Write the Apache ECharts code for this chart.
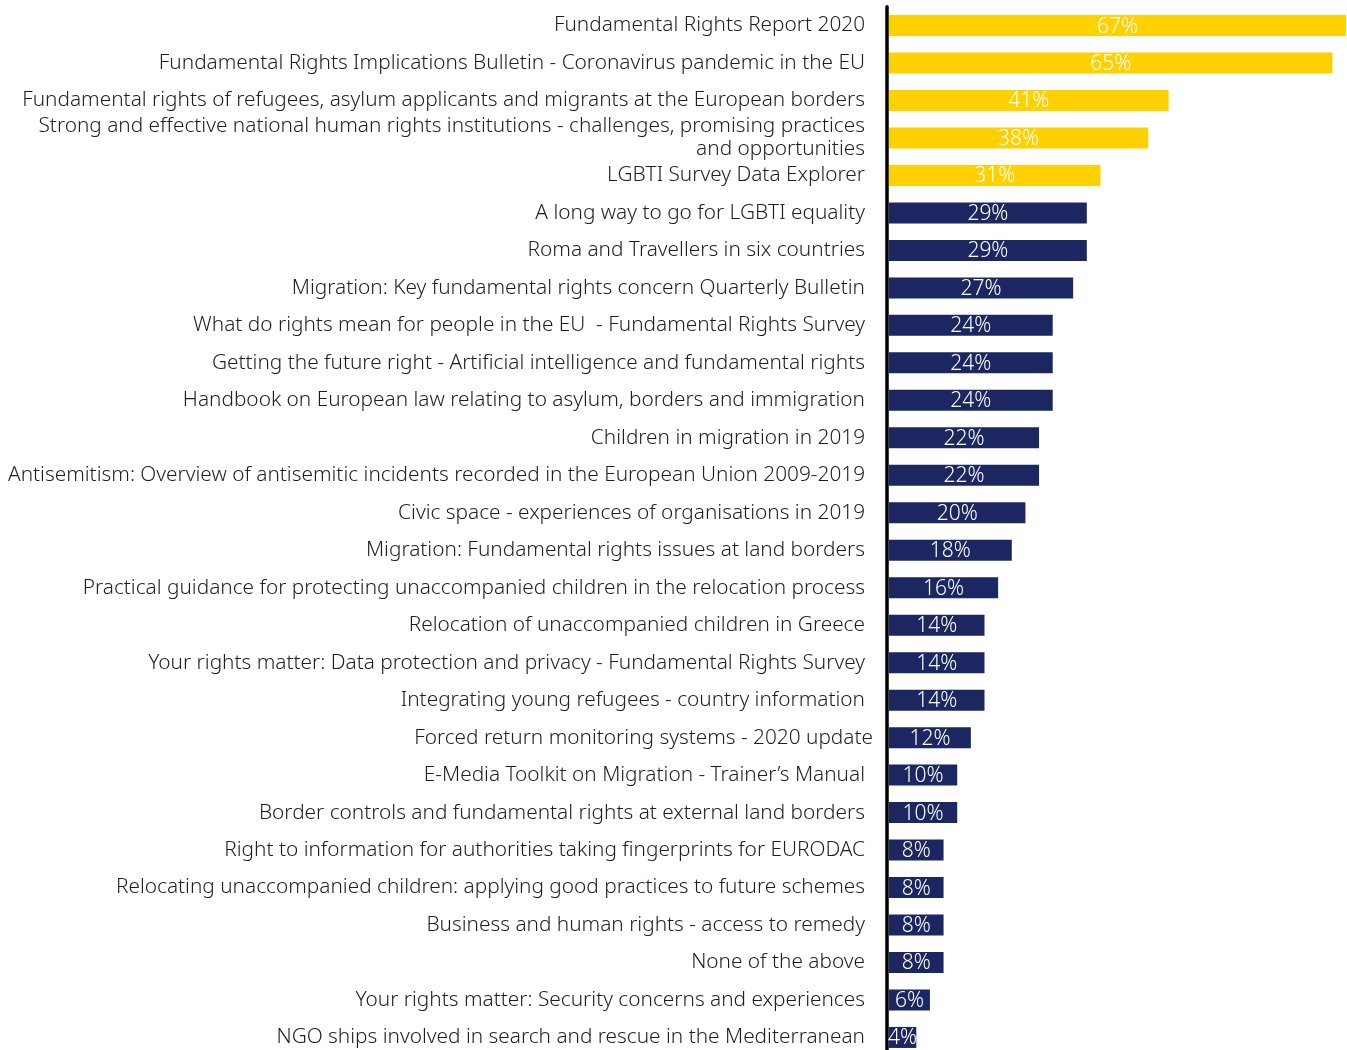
<!DOCTYPE html>
<html>
<head>
<meta charset="utf-8">
<script src="https://cdn.jsdelivr.net/npm/echarts@6/dist/echarts.min.js"></script>
<style>
  html, body { margin: 0; padding: 0; background: #fff; }
  #chart { width: 1347px; height: 1050px; }
</style>
</head>
<body>
<div id="chart"></div>
<script>
// Publications, ordered from most to least selected
const categories = [
  'Fundamental Rights Report 2020',
  'Fundamental Rights Implications Bulletin - Coronavirus pandemic in the EU',
  'Fundamental rights of refugees, asylum applicants and migrants at the European borders',
  'Strong and effective national human rights institutions - challenges, promising practices\nand opportunities',
  'LGBTI Survey Data Explorer',
  'A long way to go for LGBTI equality',
  'Roma and Travellers in six countries',
  'Migration: Key fundamental rights concern Quarterly Bulletin',
  'What do rights mean for people in the EU  - Fundamental Rights Survey',
  'Getting the future right - Artificial intelligence and fundamental rights',
  'Handbook on European law relating to asylum, borders and immigration',
  'Children in migration in 2019',
  'Antisemitism: Overview of antisemitic incidents recorded in the European Union 2009-2019',
  'Civic space - experiences of organisations in 2019',
  'Migration: Fundamental rights issues at land borders',
  'Practical guidance for protecting unaccompanied children in the relocation process',
  'Relocation of unaccompanied children in Greece',
  'Your rights matter: Data protection and privacy - Fundamental Rights Survey',
  'Integrating young refugees - country information',
  'Forced return monitoring systems - 2020 update',
  'E-Media Toolkit on Migration - Trainer\u2019s Manual',
  'Border controls and fundamental rights at external land borders',
  'Right to information for authorities taking fingerprints for EURODAC',
  'Relocating unaccompanied children: applying good practices to future schemes',
  'Business and human rights - access to remedy',
  'None of the above',
  'Your rights matter: Security concerns and experiences',
  'NGO ships involved in search and rescue in the Mediterranean'
];

// Share of respondents (%)
const shares = [67, 65, 41, 38, 31, 29, 29, 27, 24, 24, 24, 22, 22, 20, 18, 16, 14, 14, 14, 12, 10, 10, 8, 8, 8, 8, 6, 4];

// The five most selected items are highlighted
const highlightCount = 5;

const YELLOW = '#FFD100';
const NAVY = '#1C2660';
const FONT = 'Noto Sans';
const LABEL_SIZE = 20.8;

const chart = echarts.init(document.getElementById('chart'));

function labelStyle(padRight) {
  return { padding: [0, padRight, 0, 0], fontFamily: FONT, fontWeight: 300, fontSize: LABEL_SIZE, color: '#1e1e1e', lineHeight: 23 };
}

chart.setOption({
  animation: false,
  grid: { left: 889, right: 1, top: 6.8, height: 1049.4, containLabel: false, outerBoundsMode: 'none' },
  xAxis: {
    type: 'value',
    min: 0,
    max: 67,
    show: false
  },
  yAxis: {
    type: 'category',
    data: categories,
    inverse: true,
    offset: 2,
    axisLine: { show: true, onZero: false, lineStyle: { color: '#000', width: 3.5 } },
    axisTick: { show: false },
    splitLine: { show: false },
    axisLabel: {
      margin: 14,
      fontFamily: FONT,
      fontWeight: 300,
      fontSize: LABEL_SIZE,
      color: '#1e1e1e',
      lineHeight: 23,
      align: 'right',
      formatter: function (value) {
        const style = value.indexOf('Forced return') === 0 ? 'b' : 'a';
        return value.split('\n').map(function (line) { return '{' + style + '|' + line + '}'; }).join('\n');
      },
      rich: {
        a: labelStyle(8),
        b: labelStyle(0)
      }
    }
  },
  series: [{
    type: 'bar',
    barWidth: 21,
    data: shares.map(function (v, i) {
      return { value: v, itemStyle: { color: i < highlightCount ? YELLOW : NAVY } };
    }),
    label: {
      show: true,
      position: 'inside',
      offset: [0, 1],
      formatter: '{c}%',
      color: '#fff',
      fontFamily: FONT,
      fontWeight: 300,
      fontSize: 21
    }
  }]
});
</script>
</body>
</html>
